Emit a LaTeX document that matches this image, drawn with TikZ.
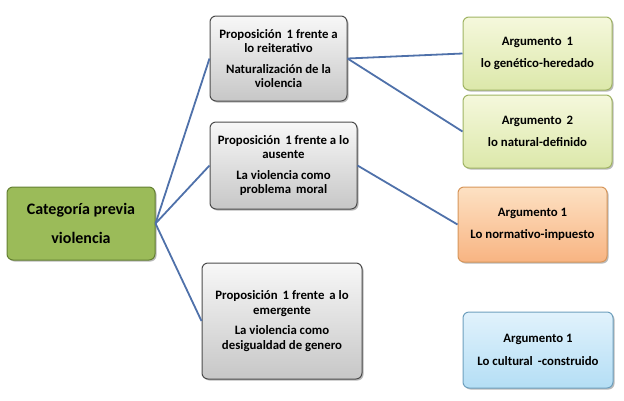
\documentclass[tikz,border=0pt]{standalone}
\usepackage{fontspec}
\setmainfont{Carlito}
\usetikzlibrary{shadows}
\begin{document}
\begin{tikzpicture}[x=1pt,y=-1pt,
  box/.style={rounded corners=6pt, draw, line width=1pt, align=center, font=\bfseries\fontsize{12.8}{14.5}\selectfont,
    inner sep=2pt, drop shadow={shadow xshift=1.5pt, shadow yshift=-1.5pt, fill=black!45, opacity=0.6}},
  grayb/.style={box, draw=black!70, top color=white!97!black, bottom color=black!22},
  argg/.style={box, draw={rgb,255:red,160;green,180;blue,100},
    top color={rgb,255:red,245;green,248;blue,220}, bottom color={rgb,255:red,220;green,232;blue,170}},
  connc/.style={draw={rgb,255:red,79;green,113;blue,170}, line width=1.8pt}]
\useasboundingbox (0,0) rectangle (624,400);
\node[box, minimum width=148pt, minimum height=73pt, draw={rgb,255:red,100;green,128;blue,50},
  fill={rgb,255:red,155;green,187;blue,89}, font=\bfseries\fontsize{16}{29}\selectfont] (root) at (81,223.5) {Categoría previa\\violencia};
\node[grayb, minimum width=137pt, minimum height=85pt] (p1) at (278.5,58.5) {Proposición\, 1 frente a\\lo reiterativo\\[6pt]Naturalización de la\\violencia};
\node[grayb, minimum width=147pt, minimum height=87pt] (p2) at (283.5,165.5) {Proposición\, 1 frente a lo\\ausente\\[6pt]La violencia como\\problema\, moral};
\node[grayb, minimum width=160pt, minimum height=116pt] (p3) at (282,321) {Proposición\, 1 frente\, a lo\\emergente\\[6pt]La violencia como\\desigualdad de genero};
\node[argg, minimum width=149pt, minimum height=73pt] (a1) at (537.5,53.5) {Argumento\, 1\\[8pt]lo genético-heredado};
\node[argg, minimum width=149pt, minimum height=73pt] (a2) at (537.5,131.5) {Argumento\, 2\\[8pt]lo natural-definido};
\node[box, minimum width=149pt, minimum height=75pt, draw={rgb,255:red,215;green,150;blue,90},
  top color={rgb,255:red,253;green,225;blue,195}, bottom color={rgb,255:red,248;green,180;blue,130}] (a3) at (532.5,224.5) {Argumento 1\\[8pt]Lo normativo-impuesto};
\node[box, minimum width=150pt, minimum height=76pt, draw={rgb,255:red,110;green,160;blue,190},
  top color={rgb,255:red,225;green,242;blue,252}, bottom color={rgb,255:red,180;green,222;blue,245}] (a4) at (538,350) {Argumento 1\\[8pt]Lo cultural\, -construido};
\draw[connc] (root.east) -- (p1.west);
\draw[connc] (root.east) -- (p2.west);
\draw[connc] (root.east) -- (p3.west);
\draw[connc] (p1.east) -- (a1.west);
\draw[connc] (p1.east) -- (a2.west);
\draw[connc] (p2.east) -- (a3.west);
\end{tikzpicture}
\end{document}
